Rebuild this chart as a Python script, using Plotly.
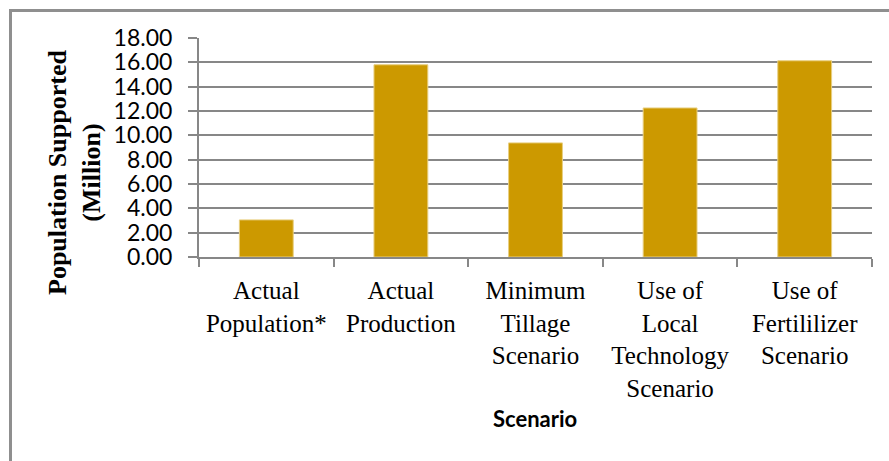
import plotly.graph_objects as go

# Scenario categories and the population each could support (millions)
categories = [
    "Actual<br>Population*",
    "Actual<br>Production",
    "Minimum<br>Tillage<br>Scenario",
    "Use of<br>Local<br>Technology<br>Scenario",
    "Use of<br>Fertililizer<br>Scenario",
]
population_million = [3.05, 15.80, 9.38, 12.25, 16.13]
y_ticks = [0, 2, 4, 6, 8, 10, 12, 14, 16, 18]

W, H = 889, 461
L, R, T, B = 199, 17, 38, 204
pw, ph = W - L - R, H - T - B


def px_x(x):
    return (x - L) / pw


def px_y(y):
    return (H - B - y) / ph


grid = "#878787"

fig = go.Figure(
    go.Bar(
        x=categories,
        y=population_million,
        marker=dict(color="#CC9900", line=dict(color="#E8CF80", width=1)),
        width=0.4,
        hoverinfo="x+y",
    )
)

fig.update_layout(
    width=W,
    height=H,
    margin=dict(l=L, r=R, t=T, b=B),
    paper_bgcolor="white",
    plot_bgcolor="white",
    showlegend=False,
    xaxis=dict(
        type="category",
        tickson="boundaries",
        ticks="outside",
        ticklen=8,
        tickwidth=2,
        tickcolor=grid,
        showline=True,
        linecolor=grid,
        linewidth=2,
        showgrid=False,
        ticklabelstandoff=10,
        tickfont=dict(family="Liberation Serif", size=25, color="black"),
        fixedrange=True,
    ),
    yaxis=dict(
        range=[0, 18],
        tickvals=y_ticks,
        tickformat=".2f",
        ticks="outside",
        ticklen=9,
        tickwidth=2,
        tickcolor=grid,
        showline=True,
        linecolor=grid,
        linewidth=2,
        showgrid=True,
        gridcolor=grid,
        gridwidth=2,
        zeroline=False,
        ticklabelstandoff=11,
        tickfont=dict(family="Lato", size=23, color="black"),
        fixedrange=True,
    ),
    annotations=[
        dict(
            text="<b>Population Supported<br>(Million)</b>",
            xref="paper", yref="paper",
            x=px_x(74), y=px_y(173),
            xanchor="center", yanchor="middle",
            textangle=-90,
            showarrow=False,
            font=dict(family="Liberation Serif", size=26, color="black"),
        ),
        dict(
            text="<b>Scenario</b>",
            xref="paper", yref="paper",
            x=px_x(535), y=px_y(419),
            xanchor="center", yanchor="middle",
            showarrow=False,
            font=dict(family="Lato", size=22, color="black"),
        ),
    ],
    shapes=[
        # frame around the chart: top and left edges
        dict(type="line", xref="paper", yref="paper",
             x0=px_x(9), x1=px_x(889), y0=px_y(10.5), y1=px_y(10.5),
             line=dict(color="#8f8f8f", width=3)),
        dict(type="line", xref="paper", yref="paper",
             x0=px_x(10.5), x1=px_x(10.5), y0=px_y(9), y1=px_y(461),
             line=dict(color="#8f8f8f", width=3)),
    ],
)

fig.write_html("out.html")
